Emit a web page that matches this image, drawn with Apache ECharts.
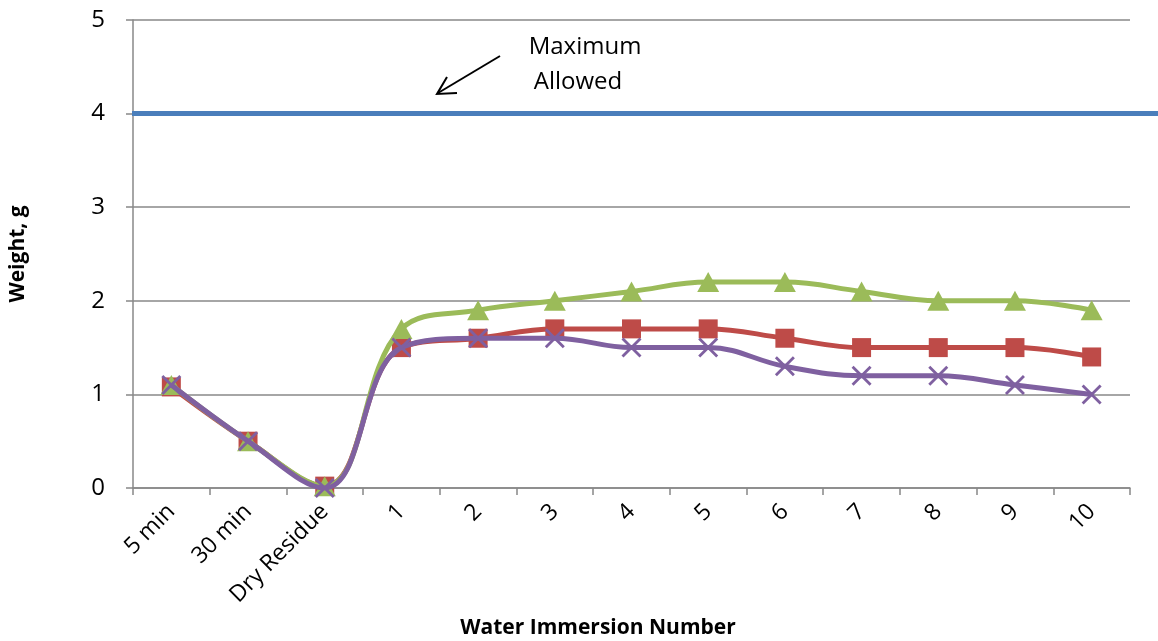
<!DOCTYPE html>
<html>
<head>
<meta charset="utf-8">
<script src="https://cdn.jsdelivr.net/npm/echarts@6/dist/echarts.min.js"></script>
<style>html,body{margin:0;padding:0;background:#fff}#c{width:1158px;height:641px}</style>
</head>
<body>
<div id="c"></div>
<script>
const categories = ['5 min','30 min','Dry Residue','1','2','3','4','5','6','7','8','9','10'];
const redValues = [1.08,0.5,0.02,1.5,1.6,1.7,1.7,1.7,1.6,1.5,1.5,1.5,1.4];
const greenValues = [1.1,0.5,0.02,1.7,1.9,2.0,2.1,2.2,2.2,2.1,2.0,2.0,1.9];
const purpleValues = [1.1,0.5,0.0,1.5,1.6,1.6,1.5,1.5,1.3,1.2,1.2,1.1,1.0];
const maxAllowed = 4;
const yTicks = [0,1,2,3,4,5];

const FONT = 'Open Sans';
const chart = echarts.init(document.getElementById('c'), null, {renderer:'canvas'});
const xPath = 'path://M0,1 L1,0 L5,4 L9,0 L10,1 L6,5 L10,9 L9,10 L5,6 L1,10 L0,9 L4,5 Z';

chart.setOption({
  backgroundColor:'#fff',
  animation:false,
  textStyle:{fontFamily:FONT},
  grid:[
    {left:132, right:28, top:20, bottom:153},
    {left:132, right:0, top:20, bottom:153}
  ],
  xAxis:[{
    type:'category', data:categories, gridIndex:0, boundaryGap:true,
    axisLine:{lineStyle:{color:'#888', width:1.5}},
    axisTick:{show:true, length:7, inside:false, lineStyle:{color:'#888', width:1.5}},
    axisLabel:{rotate:45, fontSize:23, color:'#000', margin:20, fontFamily:FONT, interval:0},
    splitLine:{show:false}
  },{
    type:'value', gridIndex:1, min:0, max:1, show:false
  }],
  yAxis:[{
    type:'value', gridIndex:0, min:yTicks[0], max:yTicks[yTicks.length-1], interval:1,
    name:'Weight, g', nameLocation:'middle', nameGap:104,
    nameTextStyle:{fontSize:21, fontWeight:'bold', color:'#000', fontFamily:FONT},
    axisLine:{show:true, lineStyle:{color:'#888', width:1.5}},
    axisTick:{show:true, length:7, lineStyle:{color:'#888', width:1.5}},
    axisLabel:{fontSize:24, color:'#000', margin:28, fontFamily:FONT},
    splitLine:{show:true, lineStyle:{color:'#888', width:1.5}}
  },{
    type:'value', gridIndex:1, min:0, max:5, show:false
  }],
  series:[
    {
      type:'line', xAxisIndex:1, yAxisIndex:1, data:[[0,maxAllowed],[1,maxAllowed]],
      symbol:'none', lineStyle:{color:'#4A7EBB', width:5}, z:2, silent:true
    },
    {
      name:'Red', type:'line', data:redValues, smooth:0.4,
      symbol:'rect', symbolSize:19,
      lineStyle:{color:'#BE4B48', width:5}, itemStyle:{color:'#BE4B48'}, z:3
    },
    {
      name:'Green', type:'line', data:greenValues, smooth:0.4,
      symbol:'triangle', symbolSize:[22,20],
      lineStyle:{color:'#9BBB59', width:5}, itemStyle:{color:'#9BBB59'}, z:4
    },
    {
      name:'Purple', type:'line', data:purpleValues, smooth:0.4,
      symbol:xPath, symbolSize:20,
      lineStyle:{color:'#7F60A0', width:5}, itemStyle:{color:'#7F60A0'}, z:5
    }
  ],
  graphic:[
    {type:'text', style:{text:'Water Immersion Number', x:598, y:628, align:'center', verticalAlign:'middle', font:'bold 21px "Open Sans"', fill:'#000'}},
    {type:'text', style:{text:'Maximum', x:585, y:47, align:'center', verticalAlign:'middle', font:'24px "Open Sans"', fill:'#000'}},
    {type:'text', style:{text:'Allowed', x:578, y:82, align:'center', verticalAlign:'middle', font:'24px "Open Sans"', fill:'#000'}},
    {type:'line', shape:{x1:500, y1:56, x2:438, y2:93}, style:{stroke:'#000', lineWidth:2}},
    {type:'polyline', shape:{points:[[447,77],[437,94],[457,93]]}, style:{stroke:'#000', lineWidth:2, fill:null}}
  ]
});
</script>
</body>
</html>
